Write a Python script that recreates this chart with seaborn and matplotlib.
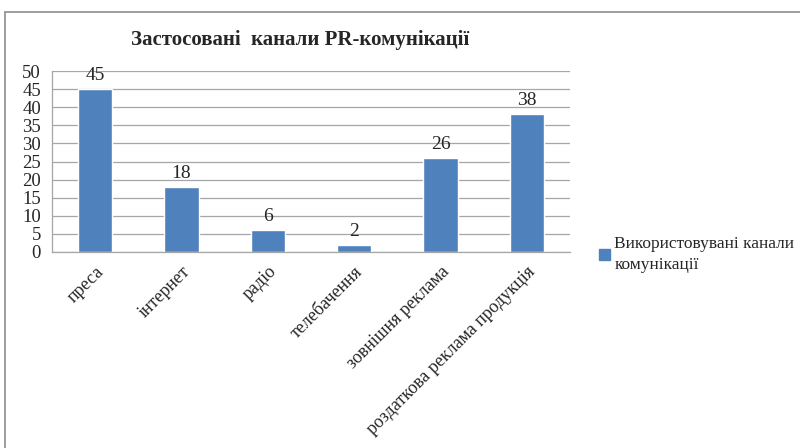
import matplotlib.pyplot as plt
import seaborn as sns
import pandas as pd
from matplotlib.patches import Rectangle, Patch

channels = ['преса', 'інтернет', 'радіо', 'телебачення',
            'зовнішня реклама', 'роздаткова реклама продукція']
counts = [45, 18, 6, 2, 26, 38]
series_name = 'Використовувані канали\nкомунікації'
title = 'Застосовані  канали PR-комунікації'

sns.set_style('white')
plt.rcParams['font.family'] = ['Liberation Serif', 'DejaVu Serif']

df = pd.DataFrame({'channel': channels, 'count': counts})
bar_color = '#4F81BD'

fig = plt.figure(figsize=(8, 4.48), dpi=100)
ax = fig.add_axes([0.065, 0.4375, 0.6475, 0.404])

sns.barplot(data=df, x='channel', y='count', color=bar_color, width=0.4,
            saturation=1, ax=ax)

ax.set_ylim(0, 50)
ax.set_yticks(range(0, 51, 5))
ax.set_xlim(-0.5, len(channels) - 0.5)
ax.yaxis.grid(True, color='#a6a6a6', linewidth=0.9)
ax.set_axisbelow(True)
ax.set_xlabel('')
ax.set_ylabel('')

for s in ['top', 'right']:
    ax.spines[s].set_visible(False)
for s in ['left', 'bottom']:
    ax.spines[s].set_color('#a6a6a6')
    ax.spines[s].set_linewidth(0.9)

# category boundary ticks on the x axis
ax.set_xticks([i - 0.5 for i in range(len(channels) + 1)], minor=True)
ax.tick_params(axis='x', which='minor', length=5, color='#a6a6a6', direction='out')
ax.tick_params(axis='x', which='major', length=0, pad=8)
ax.tick_params(axis='y', length=4, color='#a6a6a6', direction='out', pad=4)
ax.set_xticks(range(len(channels)))
ax.set_xticklabels(channels, rotation=45, ha='right', rotation_mode='anchor',
                   fontsize=13)
for lbl in ax.get_yticklabels():
    lbl.set_fontsize(13.5)

for i, v in enumerate(counts):
    ax.text(i, v + 1.4, str(v), ha='center', va='bottom', fontsize=14)

fig.text(0.375, 0.91, title, ha='center', va='center', fontsize=15,
         fontweight='bold')

leg = ax.legend(handles=[Patch(color=bar_color)], labels=[series_name],
                loc='center left', bbox_to_anchor=(1.025, -0.015), frameon=False,
                fontsize=12.5, handlelength=0.65, handleheight=0.65,
                handletextpad=0.25)
for t in leg.get_texts():
    t.set_linespacing(1.45)

fig.patches.append(Rectangle((0.006, -0.05), 1.1, 0.973 + 0.05,
                             transform=fig.transFigure, fill=False,
                             edgecolor='#8c8c8c', linewidth=1.2))

fig.savefig('out.png', dpi=100)
